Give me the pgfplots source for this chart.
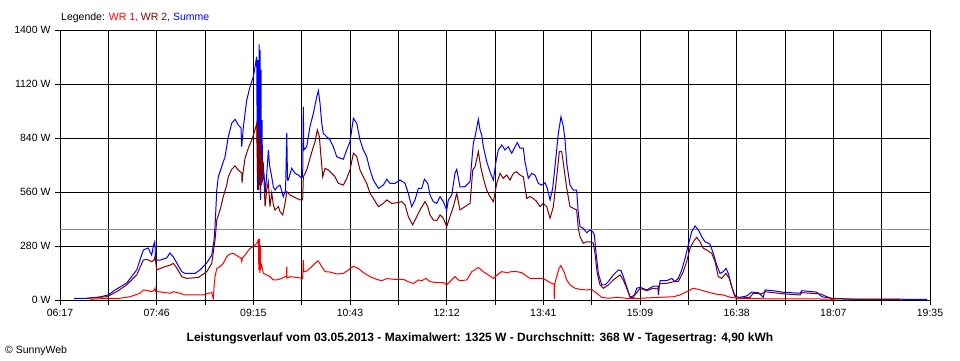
\documentclass[border=0pt]{standalone}
\usepackage{pgfplots}
\pgfplotsset{compat=1.18}
\usepackage{fontspec}
\setmainfont{Liberation Sans}
\definecolor{wrone}{HTML}{FF0000}
\definecolor{wrtwo}{HTML}{800000}
\definecolor{summe}{HTML}{0000FF}
\definecolor{avg}{HTML}{8C8C8C}
\begin{document}
\begin{tikzpicture}[x=1pt,y=1pt]
\path[use as bounding box] (0,0) rectangle (960,360);
\begin{axis}[
  at={(60pt,60pt)}, anchor=south west,
  scale only axis, width=870pt, height=270pt,
  xmin=377, xmax=1175, ymin=0, ymax=1400,
  xtick={377,421.333,465.667,510,554.333,598.667,643,687.333,731.667,776,820.333,864.667,909,953.333,997.667,1042,1086.333,1130.667,1175},
  xticklabels={06:17,{},07:46,{},09:15,{},10:43,{},12:12,{},13:41,{},15:09,{},16:38,{},18:07,{},19:35},
  ytick={0,280,560,840,1120,1400},
  yticklabels={0 W,280 W,560 W,840 W,1120 W,1400 W},
  tick pos=left, tick align=outside, major tick length=5pt,
  tick style={black, line width=1pt},
  grid=major, major grid style={black, line width=1pt},
  axis line style={black, line width=1pt},
  ticklabel style={font=\fontsize{10.5}{12}\selectfont},
  xticklabel style={yshift=-1pt},
  yticklabel style={xshift=-1pt},
  clip=false,
]
\addplot[avg, line width=1pt] coordinates {(377,368) (1175,368)};
% Summe
\addplot[summe, line width=1pt] coordinates {
(389.9,9) (402.7,9) (413.7,16) (421.3,26) (427.5,52) (438.2,88) (447.4,156) (453.4,259) (458.0,270) (459.6,249) (461.1,233) (462.6,280) (463.9,302) (464.6,218) (465.7,207) (468.8,207) (474.9,218) (477.9,244) (481.0,223) (484.1,192) (488.7,147) (491.7,138) (500.9,138) (505.4,156) (511.6,192) (516.2,233) (518.3,311) (519.2,380) (520.8,570) (522.2,639) (525.3,691) (528.4,743) (531.4,847) (534.5,916) (537.5,937) (540.6,907) (543.0,892) (543.7,795) (545.2,899) (548.3,1037) (551.3,1106) (554.3,1158) (555.9,1210) (557.4,1262)
(558.2,570) (558.6,1244) (559.1,622) (559.6,1325) (560.0,674) (560.5,1296) (560.9,519) (561.4,1193) (561.8,596) (562.3,933) (562.8,622) (564.1,648) (565.5,560) (566.9,674) (568.1,778) (569.2,700) (571.2,639) (572.7,586) (574.2,570) (576.1,586) (578.8,596) (581.8,536) (583.9,570) (585.0,866) (585.7,622) (586.4,622) (589.5,683) (592.6,657) (595.6,648) (598.7,631) (599.6,643) (600.2,1002) (600.6,778) (603.3,795) (606.3,899) (609.4,968) (612.5,1054) (614.0,1085) (615.5,1020) (617.1,916) (618.5,864) (621.6,847) (624.7,830) (627.7,795) (630.8,743) (633.8,736) (636.9,730) (640.0,778) (643.0,821) (646.1,942) (649.2,916) (652.2,830) (655.2,778) (658.3,743) (661.4,674) (664.4,622) (669.0,579) (673.6,596) (676.7,626) (679.7,605) (684.3,605) (688.9,622) (693.5,605) (696.5,553) (699.6,484) (702.6,519) (705.7,579) (708.8,579) (711.2,626) (714.3,605) (716.4,544) (719.4,510) (722.6,501) (725.6,536) (728.6,510) (731.7,467) (733.2,519) (736.3,544) (739.3,657) (740.9,678) (743.9,586) (748.5,588) (753.1,614) (756.1,813) (757.7,847) (760.7,937) (762.3,881) (763.8,856) (765.3,795) (768.4,717) (771.4,665) (774.5,622) (776.9,717) (779.0,778) (782.2,804) (785.2,778) (788.2,795) (791.3,761) (794.4,795) (796.5,816) (798.9,787) (802.0,787) (803.5,717) (806.6,631) (809.7,657) (812.7,648) (815.7,605) (818.8,596) (821.9,608) (824.0,579) (826.5,519) (828.9,579) (831.0,691) (834.1,864) (836.5,950) (838.7,899) (840.2,830) (841.8,709) (844.8,596) (847.8,570) (850.9,570) (852.4,450) (854.0,380) (857.0,372) (860.1,349) (863.1,363) (865.6,354) (867.1,337) (868.7,242) (870.8,138) (873.9,78) (876.9,78) (879.9,95) (884.5,130) (889.1,156) (891.6,152) (893.7,121) (896.8,69) (899.8,17) (902.9,9) (906.0,61) (909.0,66) (915.2,52) (921.2,72) (925.5,72) (925.8,26) (927.4,100) (933.5,100) (938.1,112) (941.1,95) (944.1,112) (947.3,156) (950.3,216) (953.3,285) (956.4,354) (959.5,384) (962.5,363) (965.6,328) (968.6,302) (973.2,290) (976.2,242) (979.4,181) (982.4,138) (985.4,147) (987.9,164) (990.0,138) (993.1,69) (996.1,17) (1000.7,14) (1006.9,21) (1011.5,41) (1017.5,38) (1022.1,14) (1023.7,52) (1031.3,48) (1040.4,40) (1055.8,35) (1057.3,48) (1071.1,41) (1075.7,17) (1084.8,9) (1101.6,5) (1129.1,5) (1147.5,4) (1172.3,3)
};
% WR 2
\addplot[wrtwo, line width=1pt] coordinates {
(401.5,9) (419.9,17) (429.0,43) (438.2,78) (447.4,130) (453.4,207) (456.6,211) (461.1,199) (463.2,207) (464.2,225) (465.7,156) (471.8,170) (477.9,181) (481.0,190) (484.1,166) (488.7,121) (493.2,112) (503.9,117) (511.6,147) (516.2,190) (519.2,311) (520.8,415) (523.8,467) (526.8,536) (529.9,596) (531.4,639) (534.5,678) (537.5,695) (540.6,674) (543.7,658) (544.0,607) (544.9,664) (546.7,735) (549.7,787) (552.9,830) (555.9,882) (557.4,916)
(558.2,648) (558.6,907) (559.1,570) (559.6,856) (560.0,596) (560.5,830) (560.9,570) (561.4,778) (561.8,622) (562.3,726) (563.5,709) (565.1,484) (566.6,570) (568.1,613) (569.6,484) (571.2,555) (572.7,493) (574.2,467) (577.3,484) (578.8,458) (581.3,441) (583.4,501) (585.0,562) (588.0,544) (591.0,536) (594.1,527) (597.2,519) (599.6,519) (600.2,639) (603.3,674) (606.3,735) (609.4,795) (610.9,819) (613.0,882) (614.9,847) (616.1,761) (618.0,639) (620.1,683) (623.1,674) (626.2,657) (629.3,639) (632.3,605) (636.9,596) (640.0,631) (643.0,674) (646.1,761) (649.2,743) (652.2,674) (655.2,639) (658.3,605) (661.4,553) (664.4,527) (669.0,484) (673.6,501) (676.7,519) (681.3,501) (685.9,504) (690.4,510) (693.5,493) (696.5,432) (700.5,389) (704.2,432) (707.2,467) (711.8,510) (714.3,484) (716.4,441) (719.4,415) (722.6,411) (725.6,441) (728.6,424) (731.7,380) (734.7,432) (737.8,484) (740.9,553) (743.9,467) (748.5,484) (753.1,501) (755.6,674) (757.7,691) (760.7,769) (762.9,691) (765.3,631) (768.4,570) (771.4,536) (774.5,510) (777.6,605) (780.6,657) (783.6,631) (786.7,648) (789.8,622) (792.8,657) (795.9,665) (798.9,648) (802.0,639) (805.1,527) (808.1,536) (811.1,527) (814.3,510) (817.3,484) (820.3,501) (823.4,484) (826.5,424) (829.5,484) (832.6,639) (835.0,769) (837.2,769) (838.7,709) (841.8,579) (844.8,484) (847.8,476) (850.9,467) (852.4,372) (854.0,328) (857.0,294) (860.1,302) (863.1,302) (866.2,294) (867.7,242) (869.8,138) (872.3,78) (875.4,61) (879.9,78) (884.5,104) (890.7,130) (893.7,104) (896.8,61) (899.8,14) (904.4,26) (909.0,61) (915.2,48) (921.2,61) (925.5,57) (927.4,86) (933.5,86) (939.6,95) (944.1,95) (948.7,147) (951.8,199) (954.9,268) (957.9,302) (961.0,325) (964.0,302) (967.1,268) (970.2,259) (974.8,242) (977.8,199) (980.8,121) (983.9,112) (987.9,138) (990.9,112) (994.6,43) (997.7,9) (1009.9,14) (1012.9,35) (1020.6,32) (1023.7,43) (1040.5,32) (1055.8,26) (1057.3,38) (1074.1,32) (1084.8,7) (1101.6,4) (1147.5,3)
};
% WR 1
\addplot[wrone, line width=1pt] coordinates {
(404.5,4) (422.9,9) (432.1,9) (441.2,17) (450.4,35) (453.4,52) (456.6,50) (461.1,43) (463.7,52) (464.2,61) (464.6,43) (467.2,43) (477.9,35) (481.0,43) (487.1,35) (491.7,26) (508.5,26) (513.1,35) (516.2,38) (517.6,8) (518.3,69) (519.2,121) (520.8,164) (523.8,173) (526.8,190) (529.9,225) (533.0,239) (536.0,242) (540.6,225) (543.0,218) (543.7,199) (544.4,218) (546.7,233) (551.3,268) (554.3,276) (557.4,294) (558.9,311)
(559.4,156) (559.8,316) (560.3,140) (560.7,285) (561.2,166) (562.0,181) (563.5,138) (566.6,130) (569.6,121) (572.7,104) (575.8,104) (580.4,112) (583.4,121) (584.8,121) (585.0,173) (585.2,114) (588.0,121) (594.1,117) (599.6,112) (600.2,207) (600.6,147) (603.3,150) (607.9,173) (612.5,199) (614.0,202) (617.1,173) (620.1,147) (624.7,145) (630.8,135) (636.9,138) (641.5,156) (646.1,175) (650.6,164) (655.2,142) (661.4,121) (667.5,107) (672.1,100) (676.7,111) (684.3,107) (691.9,107) (696.5,95) (701.1,86) (705.7,104) (708.8,100) (712.7,112) (716.4,95) (722.6,90) (728.6,90) (731.7,78) (734.7,95) (739.3,121) (742.4,104) (743.9,100) (750.1,104) (754.7,147) (760.7,169) (765.3,147) (769.9,130) (774.5,112) (779.0,135) (782.2,147) (786.8,142) (791.3,147) (795.9,147) (800.5,142) (803.5,130) (808.1,112) (814.3,112) (820.3,112) (824.9,95) (829.5,83) (830.1,83) (830.4,4) (830.9,88) (832.6,121) (834.7,164) (836.5,178) (839.3,147) (841.8,104) (844.8,78) (849.4,61) (854.0,55) (860.1,52) (864.7,55) (869.3,35) (873.9,14) (879.9,9) (887.6,14) (896.8,9) (909.0,9) (927.4,14) (939.6,17) (945.7,26) (951.8,43) (957.9,61) (962.5,55) (967.1,48) (973.2,38) (979.4,30) (985.4,26) (991.6,14) (1000.7,7) (1083.3,5) (1087.9,0)
};
\end{axis}
\node[anchor=base west, inner sep=0pt, font=\fontsize{10.5}{12}\selectfont] at (61,339.5) {Legende: \textcolor{wrone}{WR 1,} \textcolor{wrtwo}{WR 2,} \textcolor{summe}{Summe}};
\node[anchor=base, inner sep=0pt, font=\bfseries\fontsize{12}{14}\selectfont] at (480,19) {Leistungsverlauf vom 03.05.2013 - Maximalwert: 1325 W - Durchschnitt: 368 W - Tagesertrag: 4,90 kWh};
\node[anchor=base west, inner sep=0pt, font=\fontsize{10.5}{12}\selectfont] at (5,7) {\textcopyright{} SunnyWeb};
\end{tikzpicture}
\end{document}
